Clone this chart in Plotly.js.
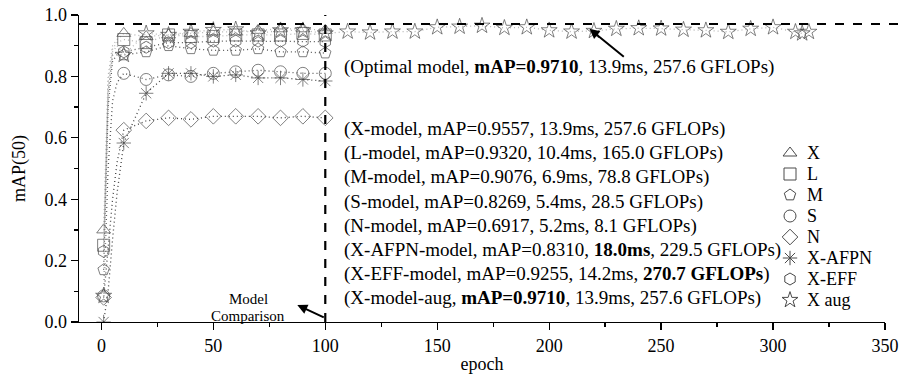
<!DOCTYPE html>
<html>
<head>
<meta charset="utf-8">
<script src="https://cdn.plot.ly/plotly-3.0.1.min.js"></script>
<style>html,body{margin:0;padding:0;background:#fff}#chart{width:903px;height:383px}</style>
</head>
<body>
<div id="chart"></div>
<script>
// ---- data ----
const epochs = [1, 3, 5, 7, 10, 20, 30, 40, 50, 60, 70, 80, 90, 100];
const xModel   = [0.30, 0.80, 0.90, 0.92, 0.94, 0.93, 0.935, 0.94, 0.945, 0.945, 0.95, 0.955, 0.955, 0.95];
const lModel   = [0.25, 0.78, 0.89, 0.91, 0.92, 0.91, 0.935, 0.93, 0.93, 0.935, 0.935, 0.935, 0.94, 0.935];
const mModel   = [0.17, 0.70, 0.85, 0.87, 0.87, 0.88, 0.90, 0.89, 0.885, 0.885, 0.89, 0.88, 0.88, 0.876];
const sModel   = [0.085, 0.50, 0.72, 0.78, 0.81, 0.79, 0.805, 0.80, 0.81, 0.815, 0.82, 0.815, 0.81, 0.81];
const nModel   = [0.08, 0.25, 0.40, 0.52, 0.625, 0.655, 0.665, 0.66, 0.67, 0.67, 0.67, 0.665, 0.67, 0.665];
const afpnModel= [0.0, 0.10, 0.27, 0.42, 0.583, 0.745, 0.81, 0.81, 0.80, 0.805, 0.795, 0.795, 0.79, 0.785];
const effModel = [0.23, 0.75, 0.87, 0.88, 0.88, 0.895, 0.91, 0.91, 0.915, 0.915, 0.915, 0.915, 0.915, 0.913];
const augEpochs = [1, 3, 5, 7, 10, 20, 30, 40, 50, 60, 70, 80, 90, 100, 110, 120, 130, 140, 150, 160, 170, 180, 190, 200, 210, 220, 230, 240, 250, 260, 270, 280, 290, 300, 310, 313, 316];
const augModel  = [0.085, 0.72, 0.88, 0.90, 0.87, 0.94, 0.935, 0.945, 0.951, 0.953, 0.94, 0.95, 0.95, 0.94, 0.946, 0.943, 0.946, 0.946, 0.96, 0.962, 0.965, 0.958, 0.96, 0.95, 0.946, 0.948, 0.955, 0.957, 0.956, 0.952, 0.95, 0.945, 0.955, 0.96, 0.945, 0.94, 0.945];
const seriesNames = ["X", "L", "M", "S", "N", "X-AFPN", "X-EFF", "X aug"];
const optimalMap = 0.9710;
const boundaryEpoch = 100;
const modelTexts = [
  "(X-model, mAP=0.9557, 13.9ms, 257.6 GFLOPs)",
  "(L-model, mAP=0.9320, 10.4ms, 165.0 GFLOPs)",
  "(M-model, mAP=0.9076, 6.9ms, 78.8 GFLOPs)",
  "(S-model, mAP=0.8269, 5.4ms, 28.5 GFLOPs)",
  "(N-model, mAP=0.6917, 5.2ms, 8.1 GFLOPs)",
  "(X-AFPN-model, mAP=0.8310, <b>18.0ms</b>, 229.5 GFLOPs)",
  "(X-EFF-model, mAP=0.9255, 14.2ms, <b>270.7 GFLOPs</b>)",
  "(X-model-aug, <b>mAP=0.9710</b>, 13.9ms, 257.6 GFLOPs)"
];
const optimalText = "(Optimal model, <b>mAP=0.9710</b>, 13.9ms, 257.6 GFLOPs)";

// ---- styling / build ----
const FONT = "Liberation Serif, Times New Roman, serif";
const symbols = ["triangle-up-open", "square-open", "pentagon-open", "circle-open", "diamond-open", "asterisk-open", "hexagon-open", "star-open"];
const lineColors = ["#b5b5b5", "#b5b5b5", "#555", "#555", "#444", "#444", "#555", "#b5b5b5"];
const ys = [xModel, lModel, mModel, sModel, nModel, afpnModel, effModel, augModel];
const xs = [epochs, epochs, epochs, epochs, epochs, epochs, epochs, augEpochs];
const MK = 12, MKC = "#4a4a4a";

function markerSizes(ep) { return ep.map(e => (e === 1 || e % 10 === 0 || e > 300) ? MK : 0); }

const traces = ys.map((y, i) => ({
  type: "scatter", mode: "lines+markers", name: seriesNames[i], showlegend: false,
  x: xs[i], y: y,
  line: {color: lineColors[i], width: 1.3, dash: "1px,3px"},
  marker: {symbol: symbols[i], size: markerSizes(xs[i]), color: MKC, line: {width: 1, color: MKC}}
}));

// pixel-space overlay (x2/y2) for legend keys and text blocks
const L = 79, R = 885, T = 15, B = 322;
const legTop = 153, legStep = 21, legSymX = 790, legTextX = 805;
seriesNames.forEach((nm, i) => {
  traces.push({type: "scatter", mode: "markers", xaxis: "x2", yaxis: "y2", showlegend: false, hoverinfo: "skip",
    x: [legSymX], y: [legTop + i * legStep],
    marker: {symbol: symbols[i], size: MK, color: MKC, line: {width: 1, color: MKC}}});
});

const annotations = [];
seriesNames.forEach((nm, i) => {
  annotations.push({text: nm, xref: "x2", yref: "y2", x: legTextX, y: legTop + i * legStep,
    xanchor: "left", yanchor: "middle", showarrow: false, font: {family: FONT, size: 18, color: "#000"}});
});
const txtTop = 129, txtStep = 24.2, txtX = 342;
modelTexts.forEach((t, i) => {
  annotations.push({text: t, xref: "x2", yref: "y2", x: txtX, y: txtTop + i * txtStep,
    xanchor: "left", yanchor: "middle", showarrow: false, font: {family: FONT, size: 19, color: "#000"}});
});
annotations.push({text: optimalText, xref: "x2", yref: "y2", x: txtX, y: 67,
  xanchor: "left", yanchor: "middle", showarrow: false, font: {family: FONT, size: 19, color: "#000"}});
annotations.push({text: "mAP=0.9710", xref: "x2", yref: "y2", x: 901, y: 13,
  xanchor: "right", yanchor: "middle", showarrow: false, font: {family: FONT, size: 18, color: "#000"}});
annotations.push({text: "Model", xref: "x2", yref: "y2", x: 248, y: 299,
  xanchor: "center", yanchor: "middle", showarrow: false, font: {family: FONT, size: 15, color: "#000"}});
annotations.push({text: "Comparison", xref: "x2", yref: "y2", x: 248, y: 316,
  xanchor: "center", yanchor: "middle", showarrow: false, font: {family: FONT, size: 15, color: "#000"}});
// arrows
annotations.push({text: "", xref: "x", yref: "y", x: 87.5, y: 0.055, axref: "x", ayref: "y", ax: 100, ay: 0.013,
  showarrow: true, arrowhead: 2, arrowsize: 1, arrowwidth: 2, arrowcolor: "#000"});
annotations.push({text: "", xref: "x", yref: "y", x: 218, y: 0.955, axref: "x", ayref: "y", ax: 234, ay: 0.86,
  showarrow: true, arrowhead: 2, arrowsize: 1, arrowwidth: 2, arrowcolor: "#000"});

const shapes = [
  {type: "line", xref: "paper", yref: "y", x0: 0, x1: 1.02, y0: optimalMap, y1: optimalMap, line: {color: "#000", width: 2, dash: "dash"}},
  {type: "line", xref: "x", yref: "paper", x0: boundaryEpoch, x1: boundaryEpoch, y0: 0, y1: 1, line: {color: "#000", width: 2.2, dash: "dash"}}
];

const layout = {
  width: 903, height: 383,
  margin: {l: L, r: 903 - R, t: T, b: 383 - B},
  paper_bgcolor: "#fff", plot_bgcolor: "#fff",
  font: {family: FONT, size: 18, color: "#000"},
  showlegend: false,
  xaxis: {range: [-10, 350], tickvals: [0, 50, 100, 150, 200, 250, 300, 350], ticks: "outside", ticklen: 7, tickwidth: 1.3,
    tickcolor: "#000", showline: true, linecolor: "#000", linewidth: 1.3, showgrid: false, zeroline: false,
    tickfont: {family: FONT, size: 18},
    minor: {tickvals: [25, 75, 125, 175, 225, 275, 325], ticks: "outside", ticklen: 4, tickcolor: "#000", showgrid: false},
    title: {text: "epoch", font: {family: FONT, size: 18}, standoff: 2}},
  yaxis: {range: [0, 1], tickvals: [0, 0.2, 0.4, 0.6, 0.8, 1.0], tickformat: ".1f", ticks: "outside", ticklen: 7, tickwidth: 1.3,
    tickcolor: "#000", showline: true, linecolor: "#000", linewidth: 1.3, showgrid: false, zeroline: false,
    tickfont: {family: FONT, size: 18},
    minor: {tickvals: [0.1, 0.3, 0.5, 0.7, 0.9], ticks: "outside", ticklen: 4, tickcolor: "#000", showgrid: false},
    title: {text: "mAP(50)", font: {family: FONT, size: 18}, standoff: 14}},
  xaxis2: {overlaying: "x", range: [L, R], visible: false, fixedrange: true},
  yaxis2: {overlaying: "y", range: [B, T], visible: false, fixedrange: true},
  annotations: annotations, shapes: shapes
};

Plotly.newPlot("chart", traces, layout, {displayModeBar: false, staticPlot: true});
</script>
</body>
</html>
